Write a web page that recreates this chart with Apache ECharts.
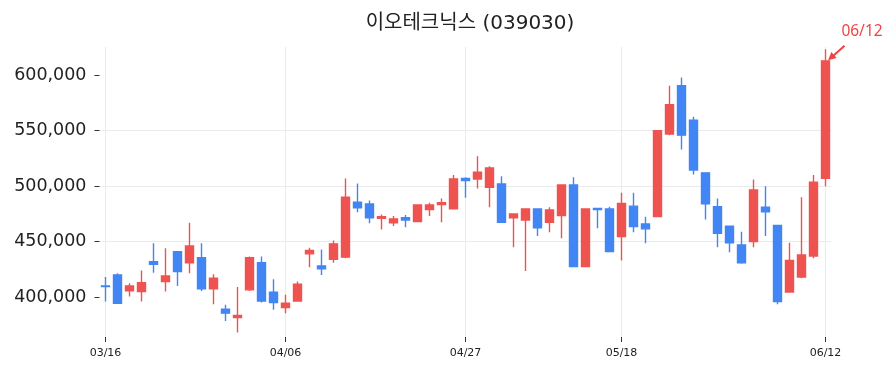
<!DOCTYPE html>
<html>
<head>
<meta charset="utf-8">
<script src="https://cdn.jsdelivr.net/npm/echarts@6/dist/echarts.min.js"></script>
<style>
html,body{margin:0;padding:0;background:#fff;}
#chart{width:895px;height:373px;}
</style>
</head>
<body>
<div id="chart"></div>
<script>
const titleText = '이오테크닉스 (039030)';
const dates = ['03/16','03/17','03/18','03/19','03/20','03/23','03/24','03/25','03/26','03/27',
  '03/30','03/31','04/01','04/02','04/03','04/06','04/07','04/08','04/09','04/10',
  '04/13','04/14','04/15','04/16','04/17','04/20','04/21','04/22','04/23','04/24',
  '04/27','04/28','04/29','04/30','05/04','05/06','05/07','05/08','05/11','05/12',
  '05/13','05/14','05/15','05/18','05/19','05/20','05/21','05/22','05/26','05/27',
  '05/28','05/29','06/01','06/02','06/04','06/05','06/08','06/09','06/10','06/11','06/12'];
const labelDates = ['03/16','04/06','04/27','05/18','06/12'];
const yTicks = [400000, 450000, 500000, 550000, 600000];
const openP = [410000,420000,405700,405000,432000,414000,441000,431000,435500,407500,
  389000,381500,406500,431000,404500,390500,396500,439000,428000,434000,
  436000,485500,484000,471000,467000,471500,468000,479000,483500,479500,
  507000,506500,499000,502000,471500,469500,479500,467500,473500,501000,
  427500,480000,479500,454500,482000,466000,472500,547000,590500,559500,
  512000,481500,464000,447000,450000,481000,464500,404500,418000,437000,507000];
const closeP = [409500,394500,410000,413000,429500,419000,423000,446000,407500,417000,
  385500,383500,435500,396500,395000,394500,411500,442000,425500,448000,
  490000,480500,471500,472500,470500,469500,483000,483000,485000,506500,
  505000,512500,516500,467500,475000,479500,462500,478500,501000,427500,
  479500,479000,441000,484500,463500,461500,550000,573500,546000,514500,
  484000,457500,449000,431000,496500,477000,396000,433000,438000,503500,613000];
const lowP = [396000,394000,400500,396000,422000,405000,410000,421500,405500,393500,
  378500,368000,405500,395000,388500,385500,396000,427000,420000,431000,
  435000,476500,466500,461000,464000,463000,467500,473000,467500,479000,
  489500,498000,481000,467000,445000,423500,455000,458500,453000,427000,
  427000,462000,440500,433000,458500,448500,472000,546000,533000,510500,
  470000,445000,440500,430000,445000,455000,393500,404000,417000,435000,500000];
const highP = [418000,421500,412500,424000,448500,444000,441500,467000,448500,420500,
  393000,409000,436500,436500,416000,402000,414000,444500,443000,451000,
  507000,502500,487000,474500,473000,474000,483500,485000,489000,510000,
  508000,527000,518000,509000,475000,479500,480000,481000,501500,508000,
  479500,480000,481500,494000,494000,472500,550500,590500,598000,562500,
  512500,489000,464500,459000,506000,500000,465000,449000,490000,510000,623500];
const yMin = 364000, yMax = 625500;

const UP = '#ef5350', DOWN = '#4285f4', ANNO = '#ef4444';
const candles = dates.map((d, i) => [openP[i], closeP[i], lowP[i], highP[i]]);

const chart = echarts.init(document.getElementById('chart'), null, {renderer: 'canvas'});
const showLabel = (idx, val) => labelDates.indexOf(val) >= 0;

chart.setOption({
  animation: false,
  backgroundColor: '#ffffff',
  title: {
    text: titleText,
    left: 465, top: 9, textAlign: 'center',
    textStyle: {fontFamily: 'DejaVu Sans, Noto Sans CJK KR', fontSize: 20, fontWeight: 'normal', color: '#222'}
  },
  grid: {left: 99.5, right: 63.5, top: 47, bottom: 36},
  xAxis: {
    type: 'category', data: dates, boundaryGap: true,
    axisLine: {show: false},
    axisTick: {show: true, alignWithLabel: true, interval: showLabel, length: 5, lineStyle: {color: '#333'}},
    axisLabel: {interval: showLabel, fontFamily: 'DejaVu Sans', fontSize: 11, color: '#222', margin: 11},
    splitLine: {show: false}
  },
  yAxis: {
    type: 'value', min: yMin, max: yMax, scale: true,
    axisLine: {show: false},
    axisTick: {show: true, length: 5, customValues: yTicks, lineStyle: {color: '#333'}},
    axisLabel: {customValues: yTicks, fontFamily: 'DejaVu Sans', fontSize: 17.5, color: '#222', margin: 13,
      formatter: v => v.toLocaleString('en-US')},
    splitLine: {show: true, showMinLine: false, showMaxLine: false, lineStyle: {color: '#ebebeb', width: 1}}
  },
  series: [{
    type: 'candlestick',
    data: candles,
    barWidth: 8,
    z: 3,
    itemStyle: {color: UP, color0: DOWN, borderColor: UP, borderColor0: DOWN, borderColorDoji: DOWN, borderWidth: 1.4},
    markLine: {
      silent: true, symbol: ['none', 'none'], z: 1, animation: false,
      label: {show: false},
      lineStyle: {color: '#ebebeb', type: 'solid', width: 1},
      emphasis: {disabled: true},
      data: labelDates.map(d => ({xAxis: d}))
    }
  }]
});

// annotation for last candle
const li = dates.length - 1;
const p = chart.convertToPixel({seriesIndex: 0}, [li, closeP[li]]);
const tip = [p[0] + 2.5, p[1] - 0.5];
const tail = [p[0] + 19, p[1] - 15];
const dx = tip[0] - tail[0], dy = tip[1] - tail[1];
const len = Math.sqrt(dx * dx + dy * dy);
const ux = dx / len, uy = dy / len;
const hl = 8, hw = 4;
const base = [tip[0] - ux * hl, tip[1] - uy * hl];
chart.setOption({
  graphic: [
    {type: 'line', shape: {x1: tail[0], y1: tail[1], x2: base[0] + ux * 2, y2: base[1] + uy * 2},
     style: {stroke: ANNO, lineWidth: 2}, silent: true, z: 10},
    {type: 'polygon', shape: {points: [tip, [base[0] - uy * hw, base[1] + ux * hw], [base[0] + uy * hw, base[1] - ux * hw]]},
     style: {fill: ANNO}, silent: true, z: 10},
    {type: 'text', x: p[0] + 36.5, y: p[1] - 29.5,
     style: {text: dates[li], fill: ANNO, font: '15.5px "Noto Sans"', align: 'center', verticalAlign: 'middle'},
     silent: true, z: 10}
  ]
});
</script>
</body>
</html>
